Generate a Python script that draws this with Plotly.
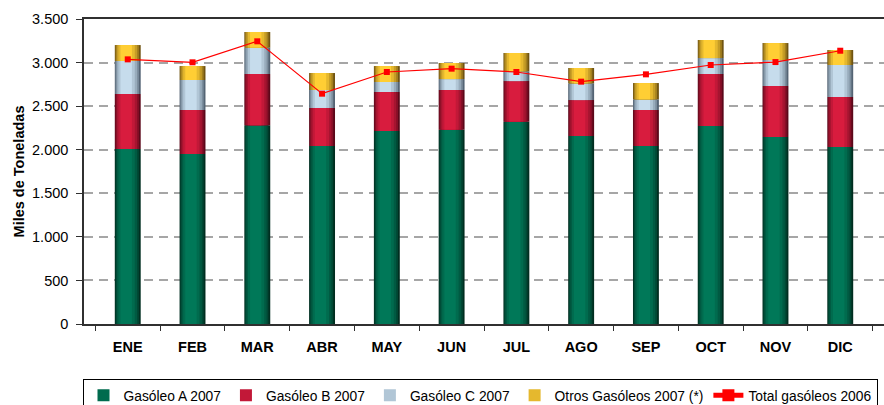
import plotly.graph_objects as go

# Monthly diesel consumption (thousand tonnes)
months = ["ENE", "FEB", "MAR", "ABR", "MAY", "JUN", "JUL", "AGO", "SEP", "OCT", "NOV", "DIC"]
gasoleo_a_2007 = [2008, 1951, 2280, 2043, 2215, 2230, 2322, 2157, 2043, 2272, 2146, 2031]
gasoleo_b_2007 = [631, 505, 589, 436, 447, 455, 466, 413, 413, 597, 585, 574]
gasoleo_c_2007 = [379, 344, 302, 206, 115, 126, 112, 192, 122, 183, 298, 367]
otros_2007 = [183, 160, 180, 195, 183, 184, 210, 176, 187, 207, 195, 172]
total_2006 = [3037, 3003, 3244, 2643, 2892, 2930, 2892, 2781, 2865, 2972, 3006, 3136]
y_ticks = [0, 500, 1000, 1500, 2000, 2500, 3000, 3500]

series = [
    ("Gasóleo A 2007", gasoleo_a_2007, (0, 46, 32), (0, 120, 88)),
    ("Gasóleo B 2007", gasoleo_b_2007, (92, 8, 26), (216, 28, 62)),
    ("Gasóleo C 2007", gasoleo_c_2007, (84, 100, 116), (198, 220, 236)),
    ("Otros Gasóleos 2007 (*)", otros_2007, (112, 84, 18), (255, 206, 52)),
]

# Horizontal shading of each bar: (left fraction, right fraction, brightness)
shade_layers = [
    (0.00, 1.00, 0.00),
    (0.03, 0.93, 0.35),
    (0.08, 0.86, 0.60),
    (0.14, 0.77, 0.82),
    (0.22, 0.66, 1.00),
]
BAR_W = 0.40
FONT = "Liberation Sans, Arial, sans-serif"


def mix(c0, c1, t):
    return "rgb({},{},{})".format(*[round(a + (b - a) * t) for a, b in zip(c0, c1)])


fig = go.Figure()
base = [0] * len(months)
for name, vals, dark, bright in series:
    for i, (lf, rf, t) in enumerate(shade_layers):
        fig.add_trace(go.Bar(
            x=months, y=vals, base=list(base),
            width=(rf - lf) * BAR_W,
            offset=-BAR_W / 2 + lf * BAR_W,
            marker=dict(color=mix(dark, bright, t), line=dict(width=0)),
            name=name, legendgroup=name, showlegend=(i == 3),
        ))
    base = [b + v for b, v in zip(base, vals)]

fig.add_trace(go.Scatter(
    x=months, y=total_2006, mode="lines+markers", name="Total gasóleos 2006",
    line=dict(color="#ff0000", width=1.2),
    marker=dict(symbol="square", size=6, color="#ff0000"),
))

fig.update_layout(
    width=884, height=405,
    margin=dict(l=84, r=0, t=19, b=81, autoexpand=False),
    barmode="overlay", bargap=0.6,
    separators=",.",
    plot_bgcolor="white", paper_bgcolor="white",
    font=dict(family=FONT, color="black"),
    showlegend=True,
    legend=dict(
        orientation="h", x=0.495, xanchor="center", y=-0.18, yanchor="top",
        bordercolor="black", borderwidth=1, font=dict(size=13.8),
        traceorder="normal", itemsizing="constant",
    ),
    xaxis=dict(
        type="category", showline=True, linecolor="#303030", linewidth=1.5,
        mirror=True, ticks="outside", tickson="boundaries", ticklen=5,
        tickcolor="#303030", showgrid=False, automargin=False,
        tickfont=dict(size=14.5),
        ticklabelstandoff=9,
    ),
    yaxis=dict(
        range=[0, 3500], tickvals=y_ticks, tickformat=",d",
        showline=True, linecolor="#303030", linewidth=1.5,
        ticks="outside", ticklen=6, tickcolor="#303030",
        showgrid=True, gridcolor="#a6a6a6", gridwidth=1.5, griddash="9px,6px",
        zeroline=False, automargin=False,
        tickfont=dict(size=14.5),
        ticklabelstandoff=5,
        title=dict(text="<b>Miles de Toneladas</b>", font=dict(size=14.5), standoff=4),
    ),
)
fig.update_xaxes(tickprefix="<b>", ticksuffix="</b>")
fig.update_yaxes(tickprefix="<b>", ticksuffix="</b>")

fig.write_html("out.html")
